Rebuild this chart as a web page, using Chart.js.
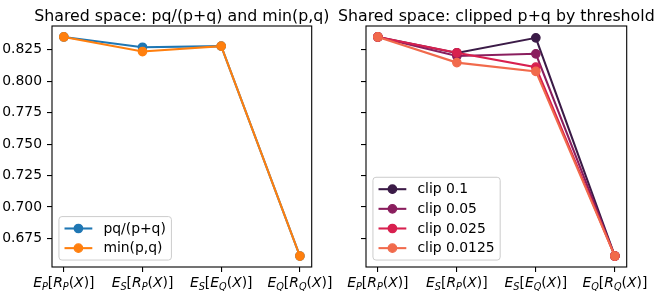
<!DOCTYPE html>
<html lang="en">
<head>
<meta charset="UTF-8">
<title>Shared space</title>
<script src="https://cdn.jsdelivr.net/npm/chart.js@4"></script>
<style>
  body { margin: 0; background: #fff; }
  #wrap { position: relative; width: 664px; height: 296px; }
  canvas { position: absolute; top: 0; }
</style>
</head>
<body>
<div id="wrap">
  <canvas id="left" width="345" height="296" style="left:0"></canvas>
  <canvas id="right" width="332" height="296" style="left:332px"></canvas>
</div>
<script>
// x categories written mathtext-like: letters italic, "_" = subscript
const categories = ['E_P[R_P(X)]', 'E_S[R_P(X)]', 'E_S[E_Q(X)]', 'E_Q[R_Q(X)]'];
const yTicks = [0.675, 0.700, 0.725, 0.750, 0.775, 0.800, 0.825];

// left panel
const leftLabels = ['pq/(p+q)', 'min(p,q)'];
const pqOverSum = [0.8352, 0.8270, 0.8279, 0.6610];
const minPQ     = [0.8352, 0.8236, 0.8279, 0.6610];
const leftColors = ['#1f77b4', '#ff7f0e'];

// right panel
const clipLabels = ['clip 0.1', 'clip 0.05', 'clip 0.025', 'clip 0.0125'];
const clip0100  = [0.8352, 0.8225, 0.8345, 0.6610];
const clip0050  = [0.8352, 0.8200, 0.8218, 0.6610];
const clip0025  = [0.8352, 0.8226, 0.8112, 0.6610];
const clip00125 = [0.8352, 0.8148, 0.8078, 0.6610];
const clipColors = ['#3b1b47', '#8a1e5e', '#d8204f', '#f16a4c'];

const FS = 13.9;
const FONT = 'DejaVu Sans';
Chart.defaults.font.family = FONT;
Chart.defaults.color = '#000';

// matplotlib style 5% margins on y
const allY = [].concat(pqOverSum, minPQ, clip0100, clip0050, clip0025, clip00125);
const lo = Math.min(...allY), hi = Math.max(...allY);
const yMin = lo - (hi - lo) * 0.05, yMax = hi + (hi - lo) * 0.05;

const frame = {
  id: 'frame',
  afterDatasetsDraw(chart) {
    const a = chart.chartArea, c = chart.ctx;
    c.save();
    c.strokeStyle = '#000';
    c.lineWidth = 1.1;
    c.strokeRect(a.left, a.top, a.right - a.left, a.bottom - a.top);
    c.restore();
  }
};

// title centred over the axes, allowed to overflow like matplotlib
const axTitle = {
  id: 'axTitle',
  afterDraw(chart, args, opts) {
    const a = chart.chartArea, c = chart.ctx;
    c.save();
    c.font = '15.8px "' + FONT + '"';
    c.fillStyle = '#000';
    c.textAlign = 'center';
    c.textBaseline = 'alphabetic';
    c.fillText(opts.text, (a.left + a.right) / 2, 20.5);
    c.restore();
  }
};

function mathParts(str) {
  const parts = [];
  for (let i = 0; i < str.length; i++) {
    const ch = str[i];
    if (ch === '_') parts.push({ t: str[++i], sub: true, it: true });
    else parts.push({ t: ch, sub: false, it: /[A-Za-z]/.test(ch) });
  }
  return parts;
}

const mathTicks = {
  id: 'mathTicks',
  afterDraw(chart) {
    const c = chart.ctx, xs = chart.scales.x;
    const base = chart.chartArea.bottom + 19.5;
    c.save();
    c.fillStyle = '#000';
    c.textBaseline = 'alphabetic';
    xs.ticks.forEach((t, i) => {
      const parts = mathParts(categories[i]);
      parts.forEach(p => {
        p.font = (p.it ? 'italic ' : '') + (p.sub ? FS * 0.7 : FS) + 'px "' + FONT + '"';
        c.font = p.font;
        p.w = c.measureText(p.t).width;
      });
      const total = parts.reduce((s, p) => s + p.w, 0);
      let x = xs.getPixelForValue(t.value) - total / 2;
      parts.forEach(p => {
        c.font = p.font;
        c.fillText(p.t, x, base + (p.sub ? FS * 0.22 : 0));
        x += p.w;
      });
    });
    c.restore();
  }
};

const boxLegend = {
  id: 'boxLegend',
  afterDraw(chart) {
    const c = chart.ctx, a = chart.chartArea;
    const sets = chart.data.datasets;
    const bp = 0.4 * FS, ls = 0.5 * FS, hl = 2 * FS, htp = 0.8 * FS, bap = 0.5 * FS, rowH = 12.7;
    c.save();
    c.font = FS + 'px "' + FONT + '"';
    const maxW = Math.max(...sets.map(d => c.measureText(d.label).width));
    const w = bp + hl + htp + maxW + bp;
    const h = 2 * bp + sets.length * rowH + (sets.length - 1) * ls;
    const x0 = a.left + bap, y0 = a.bottom - bap - h, r = 3;
    c.beginPath();
    c.moveTo(x0 + r, y0);
    c.arcTo(x0 + w, y0, x0 + w, y0 + h, r);
    c.arcTo(x0 + w, y0 + h, x0, y0 + h, r);
    c.arcTo(x0, y0 + h, x0, y0, r);
    c.arcTo(x0, y0, x0 + w, y0, r);
    c.closePath();
    c.fillStyle = 'rgba(255,255,255,0.8)';
    c.fill();
    c.strokeStyle = '#cccccc';
    c.lineWidth = 1;
    c.stroke();
    sets.forEach((d, i) => {
      const cy = y0 + bp + rowH / 2 + i * (rowH + ls);
      const lx = x0 + bp;
      c.strokeStyle = d.borderColor;
      c.lineWidth = 2.08;
      c.beginPath();
      c.moveTo(lx, cy);
      c.lineTo(lx + hl, cy);
      c.stroke();
      c.beginPath();
      c.arc(lx + hl / 2, cy, 4.2, 0, Math.PI * 2);
      c.fillStyle = d.borderColor;
      c.fill();
      c.lineWidth = 1.3;
      c.stroke();
      c.fillStyle = '#000';
      c.textBaseline = 'middle';
      c.fillText(d.label, lx + hl + htp, cy + 0.5);
    });
    c.restore();
  }
};

function makeChart(id, title, labels, series, colors, yWidth, rightPad, showY) {
  const grid = { drawOnChartArea: false, drawTicks: true, tickLength: 5, color: '#000', lineWidth: 1.1 };
  return new Chart(document.getElementById(id), {
    type: 'line',
    data: {
      datasets: labels.map((lab, i) => ({
        label: lab,
        data: series[i].map((v, j) => ({ x: j, y: v })),
        borderColor: colors[i],
        backgroundColor: colors[i],
        pointBackgroundColor: colors[i],
        pointBorderColor: colors[i],
        borderWidth: 2.08,
        pointRadius: 4.2,
        pointBorderWidth: 1.3,
        tension: 0,
        order: labels.length - i
      }))
    },
    options: {
      responsive: false,
      animation: false,
      devicePixelRatio: 1,
      layout: { padding: { left: 0, right: rightPad, top: 26, bottom: 0 } },
      plugins: {
        legend: { display: false },
        tooltip: { enabled: false },
        title: { display: false },
        axTitle: { text: title }
      },
      scales: {
        x: {
          type: 'linear', min: -0.15, max: 3.15,
          afterBuildTicks: s => { s.ticks = categories.map((c, i) => ({ value: i })); },
          ticks: { color: 'rgba(0,0,0,0)', font: { size: FS }, autoSkip: false },
          grid: grid,
          border: { display: false },
          afterFit: s => { s.height = 29; }
        },
        y: {
          min: yMin, max: yMax,
          afterBuildTicks: s => { s.ticks = yTicks.map(v => ({ value: v })); },
          ticks: {
            callback: v => v.toFixed(3),
            color: showY ? '#000' : 'rgba(0,0,0,0)',
            font: { size: FS }, padding: 5
          },
          grid: grid,
          border: { display: false },
          afterFit: s => { s.width = yWidth; }
        }
      }
    },
    plugins: [frame, mathTicks, boxLegend, axTitle]
  });
}

makeChart('left', 'Shared space: pq/(p+q) and min(p,q)', leftLabels,
  [pqOverSum, minPQ], leftColors, 52, 33.3, true);
makeChart('right', 'Shared space: clipped p+q by threshold', clipLabels,
  [clip0100, clip0050, clip0025, clip00125], clipColors, 34, 37.3, false);
</script>
</body>
</html>
